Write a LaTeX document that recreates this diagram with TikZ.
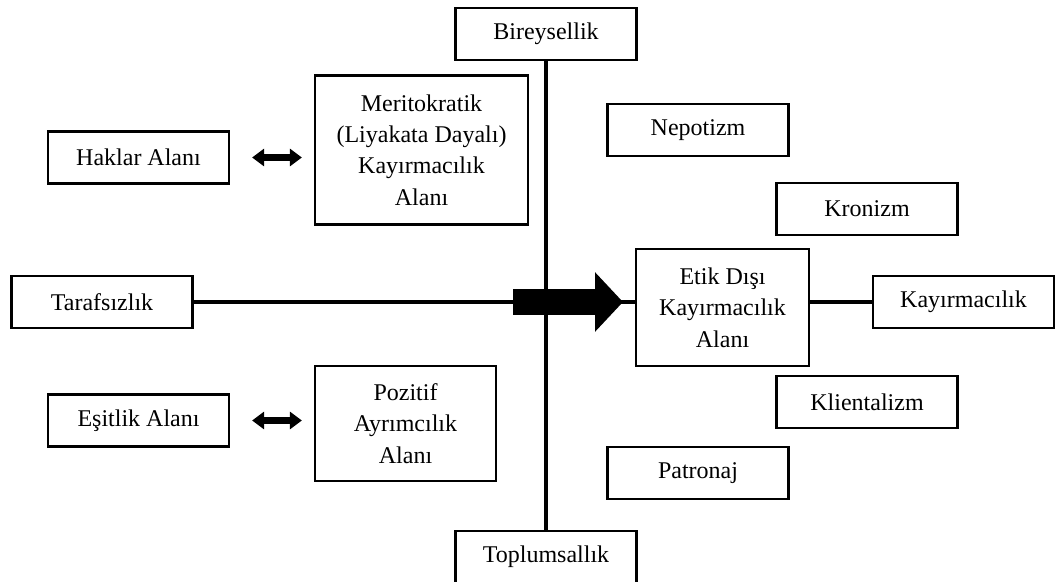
\documentclass[tikz,border=0pt]{standalone}
\usepackage{fontspec}
\setmainfont{Liberation Serif}
\usepackage{tikz}
\usetikzlibrary{arrows.meta}

\begin{document}
\begin{tikzpicture}[x=0.5pt, y=-0.5pt,
  block/.style={rectangle, draw, line width=1.1pt, inner sep=0pt, minimum width=90.5pt, minimum height=26pt, align=center, font=\fontsize{12}{15.7}\selectfont},
  axis/.style={line width=1.6pt},
  twoway/.style={line width=3.5pt, {Triangle[length=6pt, width=8.5pt]}-{Triangle[length=6pt, width=8.5pt]}, shorten <=11pt, shorten >=6pt},
  bigarrow/.style={line width=13pt, -{Triangle[length=14pt, width=29pt]}}]

\useasboundingbox (0,0) rectangle (1055,582);

% eksen
\node[block] (bireysellik) at (546,34) {Bireysellik};
\node[block] (toplumsallik) at (546,557) {Toplumsallık};
\node[block] (tarafsizlik) at (102,302) {Tarafsızlık};
\node[block, minimum width=86.5pt, minimum height=58.5pt] (etik) at (722.5,307.5) {Etik Dışı\\Kayırmacılık\\Alanı};
\node[block] (kayirmacilik) at (963.5,302) {Kayırmacılık};

% sol taraf
\node[block, minimum width=106.5pt, minimum height=74.5pt] (merit) at (421.5,150) {Meritokratik\\(Liyakata Dayalı)\\Kayırmacılık\\Alanı};
\node[block, minimum height=57.5pt] (pozitif) at (405.5,423.5) {Pozitif\\Ayrımcılık\\Alanı};
\node[block] (haklar) at (138.5,157.5) {Haklar Alanı};
\node[block] (esitlik) at (138.5,420.5) {Eşitlik Alanı};

% sag taraf
\node[block] (nepotizm) at (698,130) {Nepotizm};
\node[block] (kronizm) at (867,209) {Kronizm};
\node[block] (klientalizm) at (867,402) {Klientalizm};
\node[block] (patronaj) at (698,473) {Patronaj};

\coordinate (fatstart) at (513,302);
\coordinate (fattip) at (623,302);

\draw[axis] (bireysellik) -- (toplumsallik);
\draw[axis] (tarafsizlik.east) -- (tarafsizlik.east -| etik.west);
\draw[axis] (etik.east |- kayirmacilik.west) -- (kayirmacilik.west);
\draw[bigarrow] (fatstart) -- (fattip);
\draw[twoway] (haklar.east) -- (haklar.east -| merit.west);
\draw[twoway] (esitlik.east) -- (esitlik.east -| pozitif.west);
\end{tikzpicture}
\end{document}
